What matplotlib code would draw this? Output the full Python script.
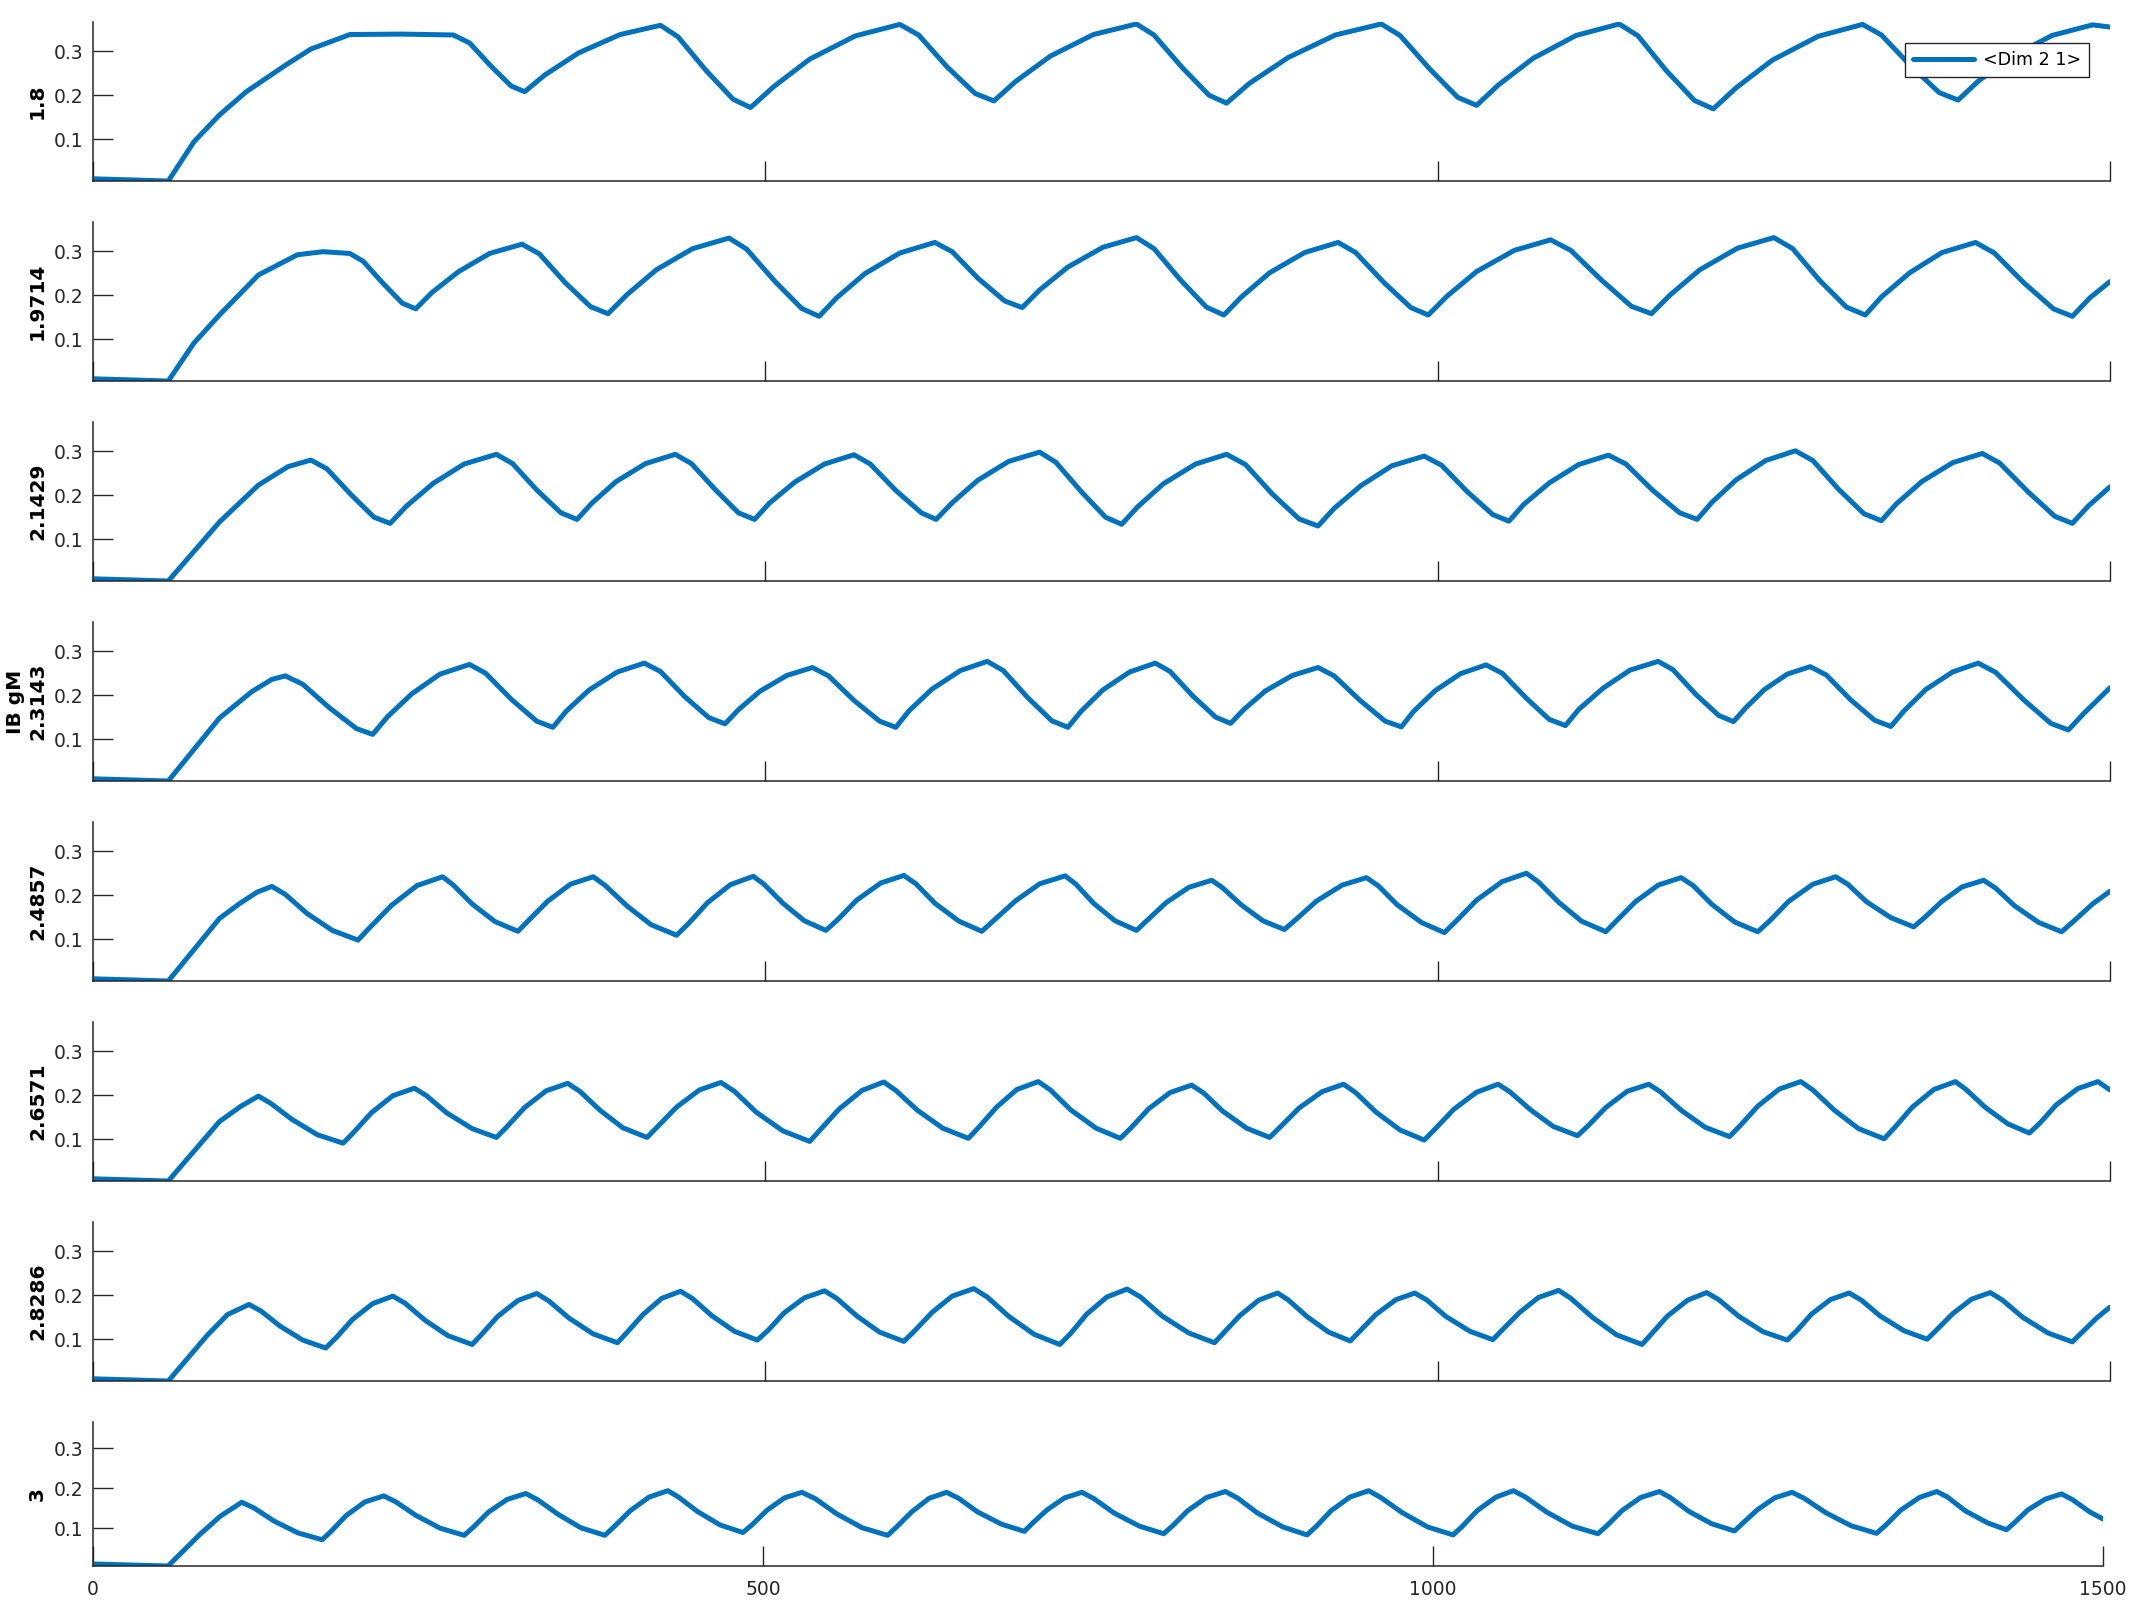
import matplotlib
matplotlib.use("Agg")
import matplotlib.pyplot as plt

# row labels (IB gM values) and the x ticks
labels = ["1.8", "1.9714", "2.1429", "IB gM\n2.3143", "2.4857", "2.6571", "2.8286", "3"]
x_ticks = [0, 500, 1000, 1500]
y_ticks = [0.1, 0.2, 0.3]

# traces (time, value): start, then each rise / peak / fall / trough
t1 = [0, 56, 75, 94, 114, 143, 162, 191, 230, 268, 280, 296, 311, 321,
      336, 361, 392, 422, 435, 456, 476, 489,
      506, 533, 567, 600, 614, 635, 656, 670,
      686, 712, 744, 776, 789, 810, 830, 843,
      860, 889, 924, 958, 972, 994, 1015, 1029,
      1045, 1071, 1103, 1135, 1149, 1170, 1191, 1205,
      1222, 1249, 1283, 1316, 1330, 1352, 1373, 1387,
      1402, 1427, 1457, 1487, 1500]
y1 = [0.010, 0.005, 0.094, 0.155, 0.208, 0.268, 0.305, 0.338, 0.339, 0.337, 0.319, 0.266, 0.221, 0.208,
      0.246, 0.296, 0.338, 0.359, 0.333, 0.256, 0.191, 0.172,
      0.219, 0.282, 0.335, 0.361, 0.337, 0.265, 0.204, 0.187,
      0.231, 0.289, 0.338, 0.362, 0.337, 0.263, 0.200, 0.182,
      0.227, 0.286, 0.337, 0.362, 0.336, 0.260, 0.195, 0.177,
      0.223, 0.284, 0.336, 0.362, 0.335, 0.256, 0.188, 0.169,
      0.217, 0.280, 0.334, 0.361, 0.337, 0.266, 0.206, 0.189,
      0.232, 0.288, 0.336, 0.360, 0.355]

t2 = [0, 56, 75, 94, 123, 152, 171, 191, 201, 216, 230, 240,
      252, 272, 295, 319, 332, 351, 370, 383,
      397, 419, 446, 473, 486, 507, 527, 540,
      553, 574, 600, 626, 639, 658, 678, 691,
      704, 725, 751, 776, 789, 809, 828, 841,
      854, 875, 901, 926, 939, 960, 980, 993,
      1007, 1029, 1057, 1084, 1099, 1122, 1144, 1159,
      1173, 1195, 1223, 1250, 1264, 1284, 1304, 1318,
      1330, 1351, 1375, 1400, 1414, 1436, 1458, 1472,
      1485, 1500]
y2 = [0.010, 0.005, 0.091, 0.155, 0.246, 0.292, 0.299, 0.295, 0.277, 0.226, 0.182, 0.169,
      0.206, 0.254, 0.295, 0.316, 0.294, 0.229, 0.174, 0.158,
      0.201, 0.258, 0.306, 0.330, 0.305, 0.232, 0.170, 0.152,
      0.194, 0.249, 0.296, 0.320, 0.299, 0.239, 0.187, 0.172,
      0.212, 0.264, 0.309, 0.331, 0.306, 0.234, 0.173, 0.155,
      0.196, 0.251, 0.297, 0.320, 0.297, 0.229, 0.172, 0.155,
      0.198, 0.254, 0.302, 0.326, 0.302, 0.234, 0.175, 0.158,
      0.201, 0.258, 0.307, 0.331, 0.306, 0.234, 0.173, 0.155,
      0.196, 0.251, 0.297, 0.320, 0.296, 0.228, 0.169, 0.152,
      0.194, 0.231]

t3 = [0, 56, 94, 123, 145, 162, 174, 192, 209, 221,
      233, 253, 276, 300, 312, 330, 348, 360,
      371, 389, 411, 433, 445, 463, 480, 492,
      503, 522, 544, 566, 578, 597, 616, 627,
      639, 658, 681, 704, 716, 735, 753, 765,
      777, 796, 820, 843, 857, 877, 897, 911,
      923, 943, 966, 990, 1003, 1022, 1041, 1053,
      1064, 1083, 1105, 1127, 1140, 1160, 1180, 1193,
      1204, 1222, 1244, 1266, 1279, 1298, 1317, 1330,
      1341, 1360, 1383, 1405, 1418, 1439, 1459, 1472,
      1484, 1500]
y3 = [0.010, 0.005, 0.139, 0.223, 0.265, 0.280, 0.260, 0.201, 0.150, 0.136,
      0.175, 0.227, 0.271, 0.293, 0.272, 0.212, 0.160, 0.145,
      0.182, 0.231, 0.272, 0.293, 0.272, 0.212, 0.160, 0.145,
      0.182, 0.230, 0.271, 0.292, 0.271, 0.211, 0.160, 0.145,
      0.183, 0.234, 0.277, 0.298, 0.275, 0.208, 0.150, 0.134,
      0.174, 0.226, 0.271, 0.293, 0.270, 0.203, 0.146, 0.130,
      0.170, 0.222, 0.267, 0.289, 0.268, 0.208, 0.156, 0.141,
      0.179, 0.228, 0.270, 0.291, 0.271, 0.211, 0.160, 0.145,
      0.184, 0.235, 0.279, 0.301, 0.279, 0.214, 0.158, 0.142,
      0.180, 0.231, 0.274, 0.295, 0.273, 0.208, 0.152, 0.136,
      0.176, 0.219]

t4 = [0, 56, 94, 118, 133, 143, 156, 176, 196, 208,
      219, 237, 258, 280, 292, 311, 330, 342,
      352, 369, 390, 410, 422, 440, 458, 470,
      480, 496, 516, 535, 547, 566, 585, 597,
      607, 624, 645, 665, 677, 695, 713, 725,
      735, 751, 771, 790, 801, 818, 835, 846,
      856, 872, 892, 911, 923, 942, 961, 973,
      982, 998, 1017, 1036, 1048, 1066, 1083, 1095,
      1105, 1123, 1143, 1164, 1175, 1192, 1209, 1220,
      1229, 1243, 1260, 1277, 1289, 1307, 1325, 1337,
      1347, 1363, 1383, 1402, 1415, 1436, 1456, 1469,
      1480, 1500]
y4 = [0.010, 0.005, 0.148, 0.208, 0.236, 0.244, 0.225, 0.171, 0.124, 0.111,
      0.151, 0.203, 0.248, 0.270, 0.250, 0.191, 0.141, 0.127,
      0.164, 0.212, 0.253, 0.273, 0.254, 0.197, 0.149, 0.135,
      0.167, 0.209, 0.245, 0.263, 0.244, 0.188, 0.141, 0.127,
      0.165, 0.214, 0.256, 0.277, 0.256, 0.195, 0.142, 0.127,
      0.164, 0.212, 0.253, 0.273, 0.254, 0.198, 0.150, 0.136,
      0.168, 0.210, 0.245, 0.263, 0.244, 0.189, 0.141, 0.128,
      0.163, 0.210, 0.249, 0.269, 0.250, 0.193, 0.145, 0.131,
      0.168, 0.216, 0.257, 0.277, 0.258, 0.202, 0.154, 0.140,
      0.171, 0.213, 0.248, 0.265, 0.246, 0.190, 0.143, 0.129,
      0.165, 0.213, 0.253, 0.273, 0.252, 0.189, 0.136, 0.121,
      0.157, 0.217]

t5 = [0, 56, 94, 109, 122, 133, 143, 159, 178, 197,
      206, 222, 241, 260, 268, 282, 299, 316,
      324, 338, 355, 372, 381, 397, 415, 434,
      443, 457, 474, 491, 499, 513, 529, 545,
      554, 568, 586, 603, 612, 626, 644, 661,
      670, 686, 704, 723, 731, 744, 760, 776,
      784, 798, 815, 832, 840, 854, 870, 886,
      895, 910, 929, 947, 956, 970, 988, 1005,
      1014, 1029, 1048, 1066, 1075, 1090, 1107, 1125,
      1133, 1147, 1164, 1181, 1190, 1204, 1221, 1238,
      1247, 1261, 1279, 1296, 1305, 1319, 1337, 1354,
      1362, 1375, 1390, 1406, 1415, 1429, 1447, 1464,
      1473, 1487, 1500]
y5 = [0.010, 0.005, 0.147, 0.181, 0.207, 0.220, 0.202, 0.159, 0.120, 0.098,
      0.127, 0.177, 0.222, 0.242, 0.223, 0.180, 0.140, 0.118,
      0.143, 0.186, 0.225, 0.242, 0.222, 0.176, 0.133, 0.109,
      0.136, 0.183, 0.224, 0.243, 0.225, 0.182, 0.142, 0.120,
      0.145, 0.189, 0.228, 0.245, 0.226, 0.182, 0.141, 0.118,
      0.143, 0.187, 0.226, 0.244, 0.225, 0.182, 0.142, 0.120,
      0.143, 0.183, 0.218, 0.234, 0.217, 0.178, 0.142, 0.122,
      0.146, 0.187, 0.223, 0.240, 0.221, 0.178, 0.138, 0.115,
      0.142, 0.189, 0.231, 0.250, 0.230, 0.184, 0.141, 0.117,
      0.142, 0.185, 0.223, 0.240, 0.222, 0.179, 0.139, 0.117,
      0.142, 0.186, 0.225, 0.242, 0.225, 0.185, 0.149, 0.128,
      0.149, 0.186, 0.219, 0.234, 0.216, 0.176, 0.138, 0.117,
      0.141, 0.180, 0.209]

t6 = [0, 56, 94, 110, 123, 132, 148, 167, 186,
      194, 207, 223, 239, 248, 263, 282, 300,
      308, 321, 337, 353, 362, 377, 394, 412,
      420, 434, 451, 467, 477, 493, 513, 533,
      541, 555, 572, 588, 597, 613, 632, 651,
      659, 672, 687, 703, 712, 727, 746, 764,
      772, 785, 801, 817, 826, 840, 858, 875,
      883, 897, 914, 930, 939, 954, 972, 990,
      998, 1012, 1029, 1045, 1054, 1069, 1086, 1104,
      1112, 1125, 1141, 1157, 1166, 1181, 1199, 1217,
      1225, 1238, 1254, 1270, 1279, 1295, 1313, 1332,
      1340, 1353, 1369, 1385, 1393, 1407, 1424, 1440,
      1448, 1460, 1476, 1491, 1500]
y6 = [0.010, 0.005, 0.140, 0.175, 0.198, 0.182, 0.145, 0.110, 0.091,
      0.116, 0.160, 0.199, 0.216, 0.199, 0.160, 0.124, 0.104,
      0.129, 0.172, 0.210, 0.227, 0.209, 0.166, 0.126, 0.104,
      0.129, 0.173, 0.212, 0.229, 0.209, 0.162, 0.119, 0.095,
      0.122, 0.169, 0.211, 0.230, 0.211, 0.166, 0.125, 0.102,
      0.128, 0.173, 0.213, 0.231, 0.212, 0.167, 0.125, 0.102,
      0.126, 0.169, 0.206, 0.223, 0.205, 0.164, 0.125, 0.104,
      0.128, 0.171, 0.208, 0.225, 0.206, 0.162, 0.121, 0.098,
      0.123, 0.168, 0.207, 0.225, 0.207, 0.167, 0.129, 0.108,
      0.131, 0.172, 0.209, 0.225, 0.207, 0.166, 0.127, 0.106,
      0.131, 0.175, 0.214, 0.231, 0.212, 0.166, 0.124, 0.101,
      0.127, 0.173, 0.213, 0.231, 0.213, 0.173, 0.135, 0.114,
      0.137, 0.178, 0.215, 0.231, 0.212]

t7 = [0, 56, 85, 100, 116, 125, 139, 156, 173,
      181, 193, 208, 223, 232, 247, 264, 282,
      289, 301, 316, 330, 339, 354, 372, 390,
      397, 409, 423, 437, 446, 460, 477, 494,
      502, 514, 529, 544, 553, 568, 585, 603,
      611, 624, 639, 655, 665, 681, 700, 719,
      727, 739, 754, 769, 779, 795, 815, 834,
      841, 853, 867, 881, 889, 903, 919, 935,
      942, 954, 969, 983, 992, 1006, 1024, 1041,
      1048, 1061, 1075, 1090, 1099, 1115, 1133, 1152,
      1159, 1171, 1186, 1200, 1209, 1224, 1242, 1260,
      1267, 1278, 1292, 1306, 1315, 1329, 1347, 1364,
      1371, 1383, 1397, 1411, 1420, 1435, 1454, 1472,
      1479, 1490, 1500]
y7 = [0.010, 0.005, 0.109, 0.156, 0.179, 0.164, 0.130, 0.098, 0.080,
      0.104, 0.145, 0.181, 0.198, 0.182, 0.143, 0.108, 0.088,
      0.111, 0.152, 0.188, 0.204, 0.187, 0.148, 0.112, 0.092,
      0.115, 0.156, 0.193, 0.209, 0.192, 0.154, 0.118, 0.098,
      0.120, 0.160, 0.194, 0.210, 0.193, 0.153, 0.116, 0.095,
      0.119, 0.161, 0.198, 0.215, 0.196, 0.152, 0.111, 0.088,
      0.113, 0.157, 0.196, 0.214, 0.196, 0.153, 0.114, 0.092,
      0.115, 0.154, 0.189, 0.205, 0.189, 0.151, 0.116, 0.096,
      0.118, 0.156, 0.190, 0.205, 0.189, 0.152, 0.118, 0.099,
      0.121, 0.161, 0.195, 0.211, 0.193, 0.150, 0.110, 0.088,
      0.112, 0.153, 0.189, 0.206, 0.190, 0.152, 0.117, 0.098,
      0.119, 0.157, 0.190, 0.205, 0.189, 0.153, 0.119, 0.100,
      0.121, 0.158, 0.191, 0.206, 0.189, 0.150, 0.114, 0.094,
      0.115, 0.148, 0.173]

t8 = [0, 56, 80, 95, 111, 120, 135, 153, 171,
      178, 189, 203, 217, 226, 241, 259, 277,
      284, 295, 309, 323, 332, 347, 364, 382,
      389, 401, 415, 429, 437, 451, 468, 485,
      492, 503, 516, 529, 539, 555, 574, 593,
      600, 611, 624, 637, 646, 660, 678, 695,
      701, 712, 725, 738, 747, 762, 781, 799,
      806, 817, 831, 845, 854, 869, 888, 906,
      913, 924, 938, 952, 961, 977, 996, 1015,
      1022, 1033, 1047, 1060, 1069, 1085, 1104, 1123,
      1130, 1141, 1155, 1169, 1177, 1191, 1208, 1225,
      1231, 1242, 1255, 1268, 1277, 1293, 1312, 1331,
      1338, 1349, 1363, 1376, 1384, 1397, 1414, 1428,
      1434, 1444, 1457, 1469, 1477, 1490, 1500]
y8 = [0.010, 0.005, 0.085, 0.130, 0.165, 0.151, 0.118, 0.088, 0.071,
      0.093, 0.132, 0.166, 0.181, 0.166, 0.132, 0.100, 0.082,
      0.103, 0.140, 0.172, 0.187, 0.171, 0.135, 0.101, 0.082,
      0.104, 0.144, 0.178, 0.194, 0.178, 0.142, 0.108, 0.089,
      0.109, 0.145, 0.176, 0.190, 0.174, 0.136, 0.101, 0.082,
      0.104, 0.141, 0.175, 0.190, 0.175, 0.141, 0.110, 0.092,
      0.112, 0.146, 0.176, 0.190, 0.174, 0.138, 0.105, 0.086,
      0.107, 0.144, 0.177, 0.192, 0.176, 0.138, 0.103, 0.083,
      0.105, 0.144, 0.178, 0.194, 0.177, 0.139, 0.103, 0.083,
      0.105, 0.144, 0.178, 0.194, 0.178, 0.140, 0.105, 0.086,
      0.107, 0.144, 0.177, 0.192, 0.177, 0.142, 0.111, 0.093,
      0.112, 0.146, 0.176, 0.190, 0.175, 0.139, 0.106, 0.087,
      0.108, 0.145, 0.177, 0.192, 0.178, 0.144, 0.113, 0.096,
      0.114, 0.146, 0.173, 0.186, 0.172, 0.141, 0.123]

series = [(t1, y1), (t2, y2), (t3, y3), (t4, y4), (t5, y5), (t6, y6), (t7, y7), (t8, y8)]

plt.rcParams["font.family"] = ["DejaVu Sans"]
line_color = "#0072BD"
axis_color = "#262626"

W, H = 2133, 1600
fig = plt.figure(figsize=(W / 100, H / 100), dpi=100)

left = 93
for i, (t, y) in enumerate(series):
    last = i == len(series) - 1
    top = 22 + 200 * i
    height = 144 if last else 159
    width = 2010 if last else 2017
    ax = fig.add_axes([left / W, 1 - (top + height) / H, width / W, height / H])

    ax.plot(t, y, color=line_color, lw=3.6, solid_joinstyle="round",
            solid_capstyle="round", label="<Dim 2 1>")

    ax.set_xlim(0, 1500)
    ax.set_ylim(0.005, 0.3665)
    ax.set_xticks(x_ticks)
    ax.set_yticks(y_ticks)
    ax.set_yticklabels(["0.1", "0.2", "0.3"])
    if not last:
        ax.set_xticklabels([])

    for side in ["top", "right"]:
        ax.spines[side].set_visible(False)
    for side in ["left", "bottom"]:
        ax.spines[side].set_color(axis_color)
        ax.spines[side].set_linewidth(1.1)

    ax.tick_params(axis="both", direction="in", length=14.5, width=1.0,
                   color=axis_color, labelcolor=axis_color, labelsize=13.5)
    ax.tick_params(axis="y", pad=7)
    ax.tick_params(axis="x", pad=10)

    ax.set_ylabel(labels[i], fontsize=14.5, fontweight="bold", color="black")
    ax.yaxis.set_label_coords(-46 / width, 0.5)

    if i == 0:
        leg = ax.legend(loc="upper right", bbox_to_anchor=(0.9896, 0.868), borderaxespad=0,
                        fontsize=12.6, handlelength=3.5, handletextpad=0.5, borderpad=0.45,
                        fancybox=False, framealpha=1, edgecolor=axis_color)
        leg.get_frame().set_linewidth(1.0)

fig.savefig("out.png", dpi=100)
